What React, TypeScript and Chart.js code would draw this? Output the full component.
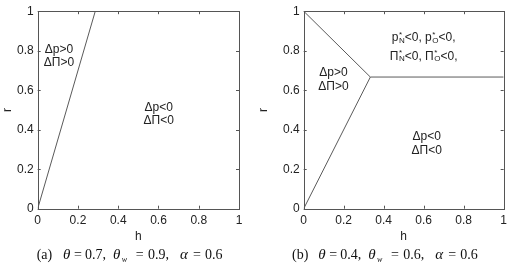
import React, { useEffect, useRef } from "react";
import { Chart, registerables } from "chart.js";

Chart.register(...registerables);

// ---- data ----
const TICK_VALUES = [0, 0.2, 0.4, 0.6, 0.8, 1];

// panel (a): boundary line
const A_LINE_H = [0, 0.286];
const A_LINE_R = [0, 1];

// panel (b): boundary lines
const B_LOWER_H = [0, 1 / 3, 1];
const B_LOWER_R = [0, 2 / 3, 2 / 3];
const B_UPPER_H = [0, 1 / 3];
const B_UPPER_R = [1, 2 / 3];

type Seg = { t: string; sup?: string; sub?: string };
type Label = { segs: Seg[]; h: number; r: number };

const A_LABELS: Label[] = [
  { segs: [{ t: "Δp>0" }], h: 0.106, r: 0.807 },
  { segs: [{ t: "ΔΠ>0" }], h: 0.106, r: 0.737 },
  { segs: [{ t: "Δp<0" }], h: 0.601, r: 0.513 },
  { segs: [{ t: "ΔΠ<0" }], h: 0.601, r: 0.445 },
];

const B_LABELS: Label[] = [
  {
    segs: [{ t: "p", sup: "*", sub: "N" }, { t: "<0, p", sup: "*", sub: "O" }, { t: "<0," }],
    h: 0.6,
    r: 0.867,
  },
  {
    segs: [{ t: "Π", sup: "*", sub: "N" }, { t: "<0, Π", sup: "*", sub: "O" }, { t: "<0," }],
    h: 0.6,
    r: 0.772,
  },
  { segs: [{ t: "Δp>0" }], h: 0.149, r: 0.69 },
  { segs: [{ t: "ΔΠ>0" }], h: 0.149, r: 0.618 },
  { segs: [{ t: "Δp<0" }], h: 0.615, r: 0.365 },
  { segs: [{ t: "ΔΠ<0" }], h: 0.615, r: 0.295 },
];

// caption pieces: text, italic, subscript, x offset from caption start (px)
type CapSeg = { t: string; it?: boolean; sub?: boolean; dx: number };
const THETA_A = "0.7,";
const THETA_W_A = "0.9,";
const ALPHA_A = "0.6";
const THETA_B = "0.4,";
const THETA_W_B = "0.6,";
const ALPHA_B = "0.6";

function caption(tag: string, th: string, thw: string, al: string): CapSeg[] {
  return [
    { t: tag, dx: 0 },
    { t: "θ", it: true, dx: 26.3 },
    { t: "=", dx: 37.3 },
    { t: th, dx: 48.3 },
    { t: "θ", it: true, dx: 76.3 },
    { t: "w", it: true, sub: true, dx: 85 },
    { t: "=", dx: 99 },
    { t: thw, dx: 111.3 },
    { t: "α", it: true, dx: 143.3 },
    { t: "=", dx: 156.3 },
    { t: al, dx: 168.3 },
  ];
}
const A_CAPTION = caption("(a)", THETA_A, THETA_W_A, ALPHA_A);
const B_CAPTION = caption("(b)", THETA_B, THETA_W_B, ALPHA_B);

const SANS = "'Liberation Sans', Arial, sans-serif";
const SERIF = "'Liberation Serif', 'Times New Roman', serif";
const AXIS_COLOR = "#555";
const LINE_COLOR = "#5a5a5a";
const TEXT_COLOR = "#222";

function fmt(v: number) {
  if (v === 0) return "0";
  if (v === 1) return "1";
  return v.toFixed(1);
}

function toPts(xs: number[], ys: number[]) {
  return xs.map((x, i) => ({ x, y: ys[i] }));
}

function makeDecor(labels: Label[], cap: CapSeg[], capX: number) {
  return {
    id: "decor",
    afterDraw(chart: any) {
      const ctx = chart.ctx as CanvasRenderingContext2D;
      const { left, right, top, bottom } = chart.chartArea;
      const xs = chart.scales.x;
      const ys = chart.scales.y;
      ctx.save();
      // box
      ctx.strokeStyle = AXIS_COLOR;
      ctx.lineWidth = 1;
      ctx.strokeRect(Math.round(left) + 0.5, Math.round(top) + 0.5, Math.round(right - left), Math.round(bottom - top));
      // inward ticks
      const tl = 3;
      ctx.beginPath();
      TICK_VALUES.forEach((v) => {
        const px = Math.round(xs.getPixelForValue(v)) + 0.5;
        ctx.moveTo(px, bottom);
        ctx.lineTo(px, bottom - tl);
        ctx.moveTo(px, top);
        ctx.lineTo(px, top + tl);
        const py = Math.round(ys.getPixelForValue(v)) + 0.5;
        ctx.moveTo(left, py);
        ctx.lineTo(left + tl, py);
        ctx.moveTo(right, py);
        ctx.lineTo(right - tl, py);
      });
      ctx.stroke();

      // region labels
      ctx.fillStyle = TEXT_COLOR;
      ctx.textBaseline = "middle";
      ctx.textAlign = "left";
      labels.forEach((lb) => {
        const mainFont = `12px ${SANS}`;
        const smallFont = `8px ${SANS}`;
        let w = 0;
        lb.segs.forEach((s) => {
          ctx.font = mainFont;
          w += ctx.measureText(s.t).width;
          if (s.sup || s.sub) {
            ctx.font = smallFont;
            w += Math.max(ctx.measureText(s.sup || "").width, ctx.measureText(s.sub || "").width) + 0.5;
          }
        });
        let x = xs.getPixelForValue(lb.h) - w / 2;
        const y = ys.getPixelForValue(lb.r);
        lb.segs.forEach((s) => {
          ctx.font = mainFont;
          ctx.fillText(s.t, x, y);
          x += ctx.measureText(s.t).width;
          if (s.sup || s.sub) {
            ctx.font = smallFont;
            const ww = Math.max(ctx.measureText(s.sup || "").width, ctx.measureText(s.sub || "").width);
            if (s.sup) ctx.fillText(s.sup, x + 0.5, y - 3);
            if (s.sub) ctx.fillText(s.sub, x + 0.5, y + 3);
            x += ww + 0.5;
          }
        });
      });

      // caption
      ctx.fillStyle = "#111";
      ctx.textBaseline = "alphabetic";
      const base = 258.5;
      cap.forEach((s) => {
        const size = s.sub ? 8 : s.it ? 15 : 14;
        ctx.font = `${s.it ? "italic " : ""}${size}px ${SERIF}`;
        ctx.fillText(s.t, capX + s.dx, s.sub ? base + 3 : base);
      });
      ctx.restore();
    },
  };
}

function axisCfg(title: string, horizontal: boolean, size: number) {
  return {
    type: "linear" as const,
    min: 0,
    max: 1,
    afterBuildTicks: (s: any) => {
      s.ticks = TICK_VALUES.map((v) => ({ value: v }));
    },
    afterFit: (s: any) => {
      if (horizontal) s.height = size;
      else s.width = size;
    },
    ticks: {
      callback: (v: any) => fmt(Number(v)),
      font: { family: SANS, size: 12 },
      color: TEXT_COLOR,
      padding: horizontal ? 5 : 4,
      maxRotation: 0,
      autoSkip: false,
    },
    grid: { display: false, drawTicks: false },
    border: { display: false },
    title: {
      display: true,
      text: title,
      font: { family: SANS, size: 12 },
      color: TEXT_COLOR,
      padding: horizontal ? { top: 0, bottom: 27.8 } : { top: 0, bottom: 0 },
    },
  };
}

function Panel(props: {
  datasets: { h: number[]; r: number[] }[];
  labels: Label[];
  caption: CapSeg[];
  capX: number;
  yWidth: number;
  padRight: number;
  left: number;
}) {
  const ref = useRef<HTMLCanvasElement | null>(null);
  useEffect(() => {
    if (!ref.current) return;
    const chart = new Chart(ref.current, {
      type: "scatter",
      data: {
        datasets: props.datasets.map((d) => ({
          data: toPts(d.h, d.r),
          showLine: true,
          borderColor: LINE_COLOR,
          borderWidth: 1,
          pointRadius: 0,
          fill: false,
        })),
      },
      options: {
        animation: false,
        responsive: false,
        devicePixelRatio: 1,
        layout: { padding: { left: 0, top: 9.5, right: props.padRight, bottom: 0 } },
        plugins: { legend: { display: false }, tooltip: { enabled: false } },
        scales: {
          x: axisCfg("h", true, 63.3),
          y: axisCfg("r", false, props.yWidth),
        } as any,
      },
      plugins: [makeDecor(props.labels, props.caption, props.capX)],
    });
    return () => chart.destroy();
  }, []);
  return (
    <div style={{ position: "absolute", left: props.left, top: 0, width: 256, height: 272 }}>
      <canvas ref={ref} width={256} height={272} style={{ width: 256, height: 272, display: "block" }} />
    </div>
  );
}

export default function App() {
  return (
    <div style={{ position: "fixed", left: 0, top: 0, width: 512, height: 272, background: "#fff" }}>
      <Panel
        left={0}
        datasets={[{ h: A_LINE_H, r: A_LINE_R }]}
        labels={A_LABELS}
        caption={A_CAPTION}
        capX={36.7}
        yWidth={37.7}
        padRight={17}
      />
      <Panel
        left={256}
        datasets={[
          { h: B_LOWER_H, r: B_LOWER_R },
          { h: B_UPPER_H, r: B_UPPER_R },
        ]}
        labels={B_LABELS}
        caption={B_CAPTION}
        capX={36}
        yWidth={47.7}
        padRight={7.7}
      />
    </div>
  );
}
